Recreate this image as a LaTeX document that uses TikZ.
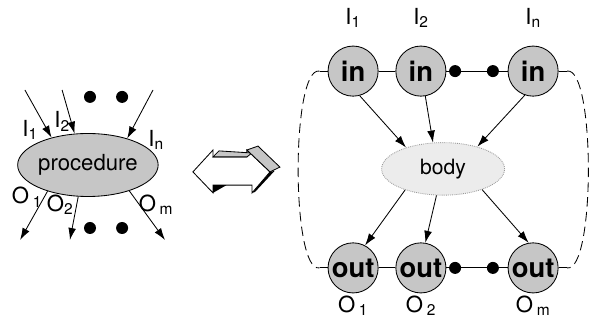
\documentclass[tikz,border=0pt]{standalone}
\usepackage{fontspec}
\setmainfont{TeX Gyre Heros}
\usetikzlibrary{arrows.meta, shapes.geometric, positioning, patterns}
\tikzset{
    port/.style={circle, draw=black, thick, fill=gray!45, minimum size=1.67cm, inner sep=0pt, font=\fontsize{26}{26}\selectfont\bfseries},
    proc/.style={ellipse, draw=black, thick, fill=gray!45, minimum width=4.1cm, minimum height=2.1cm, inner sep=0pt, font=\fontsize{21}{21}\selectfont},
    cloud/.style={ellipse, draw=gray!80, densely dotted, thick, fill=gray!15, minimum width=4.1cm, minimum height=1.75cm, font=\fontsize{20}{20}\selectfont},
    dot/.style={circle, fill=black, inner sep=0pt, minimum size=0.4cm},
    arrow/.style={-{Latex[length=4mm,width=2.6mm]}, thick},
    label/.style={font=\fontsize{21}{21}\selectfont}
}

\begin{document}
\begin{tikzpicture}
    \useasboundingbox (0,0) rectangle (19.8,10.8);

    % Procedure
    \node[proc] (proc) at (2.93,5.3) {procedure};
    \coordinate (ia) at (0.83,7.8);
    \coordinate (ib) at (2.07,7.8);
    \coordinate (ic) at (5.1,7.8);
    \draw[arrow] (ia) -- (proc.143);
    \draw[arrow] (ib) -- (proc.113);
    \draw[arrow] (ic) -- (proc.34);
    \coordinate (oa) at (0.67,2.8);
    \coordinate (ob) at (2.33,2.8);
    \coordinate (oc) at (5.5,2.8);
    \draw[arrow] (proc.213) -- (oa);
    \draw[arrow] (proc.253) -- (ob);
    \draw[arrow] (proc.328) -- (oc);
    \node[dot] (pdot1) at (3.0,7.57) {};
    \node[dot] (pdot2) at (4.07,7.57) {};
    \node[dot] (pdot3) at (3.0,3.2) {};
    \node[dot] (pdot4) at (4.07,3.2) {};
    \node[label] at (1.0,6.47) {I\textsubscript{1}};
    \node[label] at (2.07,6.75) {I\textsubscript{2}};
    \node[label] at (5.2,6.13) {I\textsubscript{n}};
    \node[label] at (0.9,4.23) {O\,\textsubscript{1}};
    \node[label] at (2.0,3.97) {O\textsubscript{2}};
    \node[label] at (5.2,3.97) {O\,\textsubscript{m}};

    % Double arrow
    \fill (9.0,5.07) -- (9.15,5.1) -- (8.5,4.4) -- (8.4,4.37) -- cycle;
    \filldraw[thick, fill=white] (6.43,5.07) -- (7.1,5.8) -- (7.1,5.57) -- (8.23,5.57) -- (8.23,5.8)
        -- (9.0,5.07) -- (8.4,4.37) -- (8.4,4.63) -- (7.1,4.63) -- (7.1,4.37) -- cycle;
    \filldraw[thick, fill=gray!45] (7.1,5.57) -- (7.3,5.77) -- (8.4,5.7) -- (8.23,5.57) -- cycle;
    \filldraw[thick, fill=gray!45] (8.23,5.8) -- (8.6,5.93) -- (9.33,5.23) -- (9.0,5.07) -- cycle;
    \fill (7.1,4.37) -- (7.1,4.63) -- (7.55,4.63) -- cycle;

    % Body
    \node[cloud] (body) at (14.77,5.17) {body};
    \node[port] (in1) at (11.77,8.43) {in};
    \node[port] (in2) at (14.03,8.43) {in};
    \node[dot] (idot1) at (15.17,8.43) {};
    \node[dot] (idot2) at (16.43,8.43) {};
    \node[port] (inn) at (17.77,8.43) {in};
    \node[port] (out1) at (11.77,1.87) {out};
    \node[port] (out2) at (14.03,1.87) {out};
    \node[dot] (odot1) at (15.17,1.87) {};
    \node[dot] (odot2) at (16.43,1.87) {};
    \node[port] (outm) at (17.77,1.87) {out};

    \draw[thick] (in1) -- (in2) -- (idot1) -- (idot2) -- (inn);
    \draw[thick] (out1) -- (out2) -- (odot1) -- (odot2) -- (outm);

    \draw[arrow] (in1.-75) -- (body.150);
    \draw[arrow] (in2.-80) -- (body.111);
    \draw[arrow] (inn.-109) -- (body.33);
    \draw[arrow] (body.209) -- (out1.62);
    \draw[arrow] (body.256) -- (out2.80);
    \draw[arrow] (body.332) -- (outm.100);

    % Loop
    \coordinate (lt) at (10.65,8.43);
    \coordinate (lb) at (10.65,1.87);
    \coordinate (rt) at (18.9,8.43);
    \coordinate (rb) at (18.9,1.87);
    \draw[thick] (in1.west) -- (lt);
    \draw[thick] (out1.west) -- (lb);
    \draw[thick] (inn.east) -- (rt);
    \draw[thick] (outm.east) -- (rb);
    \draw[thick, dash pattern=on 9pt off 5pt] (lt) .. controls (9.7,8.6) and (9.7,1.7) .. (lb);
    \draw[thick, dash pattern=on 9pt off 5pt] (rt) .. controls (19.85,8.6) and (19.85,1.7) .. (rb);

    \node[label] at (11.77,10.2) {I\textsubscript{1}};
    \node[label] at (14.03,10.2) {I\textsubscript{2}};
    \node[label] at (17.77,10.2) {I\textsubscript{n}};
    \node[label] at (11.77,0.6) {O\,\textsubscript{1}};
    \node[label] at (14.03,0.6) {O\,\textsubscript{2}};
    \node[label] at (17.77,0.6) {O\,\textsubscript{m}};
\end{tikzpicture}
\end{document}
